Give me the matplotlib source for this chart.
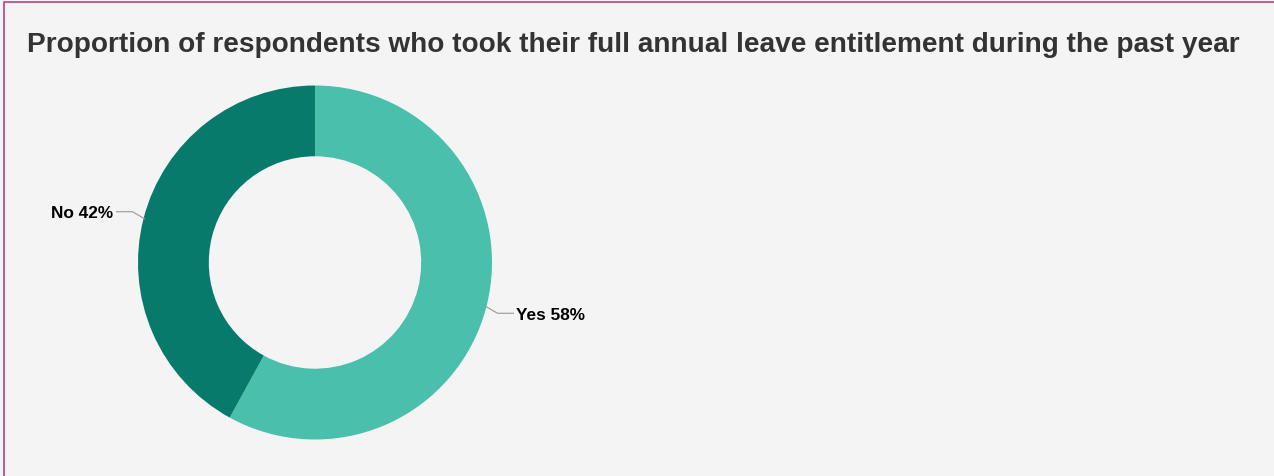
import matplotlib.pyplot as plt
import numpy as np
from matplotlib.patches import Rectangle

plt.rcParams['font.family'] = ['Liberation Sans', 'DejaVu Sans']

TITLE = 'Proportion of respondents who took their full annual leave entitlement during the past year'
labels = ['Yes', 'No']
shares = [58, 42]
colors = ['#4abfab', '#077a6c']

W, H = 1274, 477
fig = plt.figure(figsize=(W / 100, H / 100), dpi=100)
fig.patch.set_facecolor('#f4f4f4')

# whole-figure axes in pixel units (y up)
ax = fig.add_axes([0, 0, 1, 1])

cx, cy, r = 315, H - 263.5, 177
wedges, _ = ax.pie(shares, colors=colors, startangle=90, counterclock=False,
                   radius=r, center=(cx, cy), frame=True,
                   wedgeprops=dict(width=r * 0.4, linewidth=0))
ax.set_xlim(0, W)
ax.set_ylim(0, H)
ax.set_aspect('equal')
ax.axis('off')

# leader lines and labels
for w, lab, val in zip(wedges, labels, shares):
    ang = np.deg2rad((w.theta1 + w.theta2) / 2)
    x0 = cx + (r - 1) * np.cos(ang)
    y0 = cy + (r - 1) * np.sin(ang)
    right = np.cos(ang) > 0
    sgn = 1 if right else -1
    x1 = x0 + sgn * 12
    y1 = y0 - 7 if right else y0 + 7
    x2 = x0 + sgn * 28
    ax.plot([x0, x1, x2], [y0, y1, y1], color='#999999', lw=0.8,
            solid_joinstyle='round')
    ax.text(x2 + sgn * 3, y1 - 1, f'{lab} {val}%', ha='left' if right else 'right',
            va='center', fontsize=12.4, fontweight='bold', color='#000000')

fig.text(27 / W, 1 - 52 / H, TITLE, fontsize=20.15, fontweight='bold',
         color='#333333', va='baseline', ha='left')

# frame around the card
fig.patches.append(Rectangle((4 / W, -0.1), 1.2, 1 - 2.5 / H + 0.1,
                             transform=fig.transFigure, fill=False,
                             edgecolor='#c2407f', lw=1.2))

fig.savefig('out.png', dpi=100, facecolor=fig.get_facecolor())
